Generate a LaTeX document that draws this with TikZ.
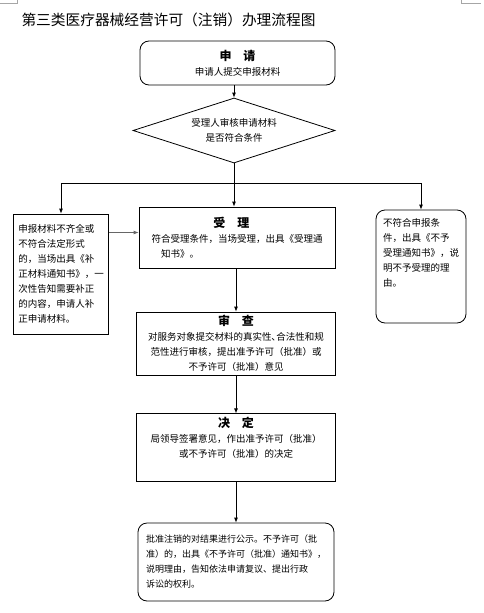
\documentclass[tikz,border=0pt]{standalone}
\usepackage{fontspec}
\setmainfont{Noto Sans CJK SC}
\usetikzlibrary{shapes.geometric,arrows.meta}

\begin{document}
\begin{tikzpicture}[x=1pt, y=-1pt,
  box/.style={rectangle, draw=black, line width=0.8pt, inner sep=3pt, align=center,
    font=\fontsize{9.5}{15}\selectfont},
  roundbox/.style={box, rounded corners=9pt},
  arr/.style={-{Latex[length=5pt,width=4pt]}, line width=0.8pt},
  head/.style={font=\fontsize{12}{15}\selectfont\bfseries}]
\useasboundingbox (0,0) rectangle (483,613);

% page corner marks
\draw[gray!70, line width=0.6pt] (0,3) -- (17,3) -- (17,0);
\draw[gray!70, line width=0.6pt] (461,0) -- (461,3) -- (481,3);

\node[anchor=west, font=\fontsize{14.7}{17}\selectfont] (title) at (18,20) {第三类医疗器械经营许可（注销）办理流程图};

\node[roundbox, minimum width=195pt, minimum height=44pt] (apply) at (237.5,63) {%
{\fontsize{12}{15}\selectfont\bfseries 申\quad 请}\\
申请人提交申报材料};

\node[diamond, draw, line width=0.8pt, aspect=3, inner sep=0pt, align=center,
  minimum width=202pt, minimum height=65pt, font=\fontsize{9.5}{15}\selectfont] (check) at (234,130.5)
  {受理人审核申请材料\\是否符合条件};

\node[box, minimum width=95pt, minimum height=120pt, align=left] (lack) at (61,274) {%
申报材料不齐全或\\
不符合法定形式\\
的，当场出具《补\\
正材料通知书》，一\\
次性告知需要补正\\
的内容，申请人补\\
正申请材料。};

\node[box, minimum width=196pt, minimum height=61pt, align=left] (accept) at (237,237.5) {%
\hspace*{6.5em}{\fontsize{12}{15}\selectfont\bfseries 受\quad 理}\\
符合受理条件，当场受理，出具《受理通\\
\hspace*{1em}知书》。};

\node[roundbox, minimum width=90pt, minimum height=113pt, align=left] (refuse) at (421,266.5) {%
不符合申报条\\
件，出具《不予\\
受理通知书》，说\\
明不予受理的理\\
由。\\[14pt]};

\node[box, minimum width=199pt, minimum height=63pt] (review) at (236,343.5) {%
{\fontsize{12}{15}\selectfont\bfseries 审\quad 查}\\
对服务对象提交材料的真实性､合法性和规\\
范性进行审核，提出准予许可（批准）或\\
不予许可（批准）意见};

\node[box, minimum width=199pt, minimum height=59pt] (decide) at (236,447.5) {%
{\fontsize{12}{15}\selectfont\bfseries 决\quad 定}\\
局领导签署意见，作出准予许可（批准）\\
或不予许可（批准）的决定\\[6pt]};

\node[roundbox, minimum width=196pt, minimum height=78pt, align=left,
  font=\fontsize{9}{15}\selectfont] (publish) at (236,562) {%
批准注销的对结果进行公示。不予许可（批\\
准）的，出具《不予许可（批准）通知书》，\\
说明理由，告知依法申请复议、提出行政\\
诉讼的权利。};

% connectors
\coordinate (split) at (234,183);
\coordinate (fix) at ([yshift=5pt]accept.west);
\draw[arr] (check.north |- apply.south) -- (check.north);
\draw[line width=0.8pt] (check.south) -- (split);
\draw[arr] (split) -| (lack.north);
\draw[arr] (split) -| (refuse.north);
\draw[arr] (split) -- (split |- accept.north);
\draw[arr, black!60] (lack.east |- fix) -- (fix);
\draw[arr] (accept.south -| review.north) -- (review.north);
\draw[arr] (review.south) -- (decide.north);
\draw[arr] (decide.south) -- (publish.north);
\end{tikzpicture}
\end{document}
